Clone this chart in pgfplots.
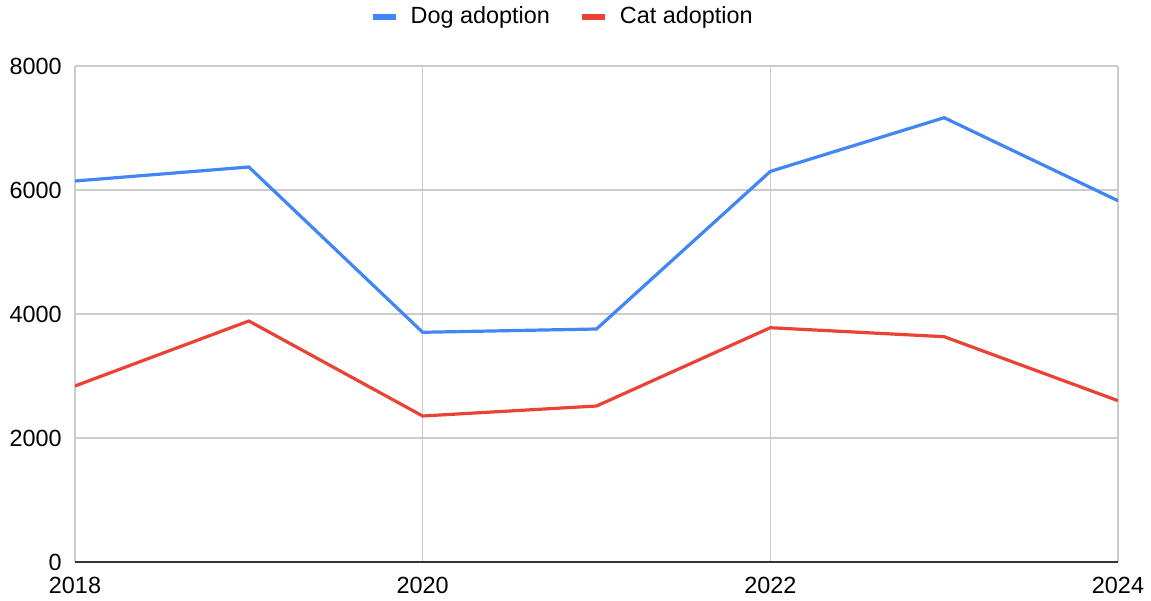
\documentclass[border=0pt]{standalone}
\usepackage{fontspec}
\setmainfont{Liberation Sans}
\usepackage{pgfplots}
\pgfplotsset{compat=1.18}

\definecolor{dogblue}{HTML}{4285F4}
\definecolor{catred}{HTML}{EA4335}
\definecolor{gridgray}{HTML}{CCCCCC}
\definecolor{axisdark}{HTML}{333333}

\begin{document}
\begin{tikzpicture}
\begin{axis}[
    scale only axis,
    width=521.5pt, height=248pt,
    xmin=2018, xmax=2024,
    ymin=0, ymax=8000,
    xtick={2018,2020,2022,2024},
    ytick={0,2000,4000,6000,8000},
    axis lines*=left,
    y axis line style={draw=none},
    x axis line style={color=axisdark, line width=1pt},
    major tick length=0pt,
    grid=major,
    major grid style={color=gridgray, line width=0.8pt},
    /pgf/number format/assume math mode=true,
    /pgf/number format/1000 sep={},
    tick label style={font=\fontsize{11.7}{14}\selectfont, text=black},
    yticklabel style={anchor=east, inner sep=0pt, xshift=-6.5pt},
    xticklabel style={anchor=north, inner sep=0pt, yshift=-7.5pt},
    legend columns=-1,
    legend style={at={(0.468,1)}, anchor=center, yshift=24.5pt, draw=none,
        font=\fontsize{11.7}{14}\selectfont,
        /tikz/every odd column/.append style={column sep=4pt},
        /tikz/every even column/.append style={column sep=12.5pt}},
    legend image code/.code={\draw[#1, line width=3pt] (0pt,0pt) -- (11.5pt,0pt);},
]
\addplot[dogblue, line width=1.6pt] coordinates {
    (2018,6145) (2019,6371) (2020,3705) (2021,3758) (2022,6300) (2023,7166) (2024,5827)};
\addlegendentry{Dog adoption}
\addplot[catred, line width=1.6pt] coordinates {
    (2018,2839) (2019,3887) (2020,2355) (2021,2516) (2022,3779) (2023,3634) (2024,2602)};
\addlegendentry{Cat adoption}
\coordinate (sw) at (rel axis cs:0,0);
\end{axis}
\pgfresetboundingbox
\path ([xshift=-37.5pt,yshift=-19pt]sw) rectangle ([xshift=538pt,yshift=281pt]sw);
\end{tikzpicture}
\end{document}
